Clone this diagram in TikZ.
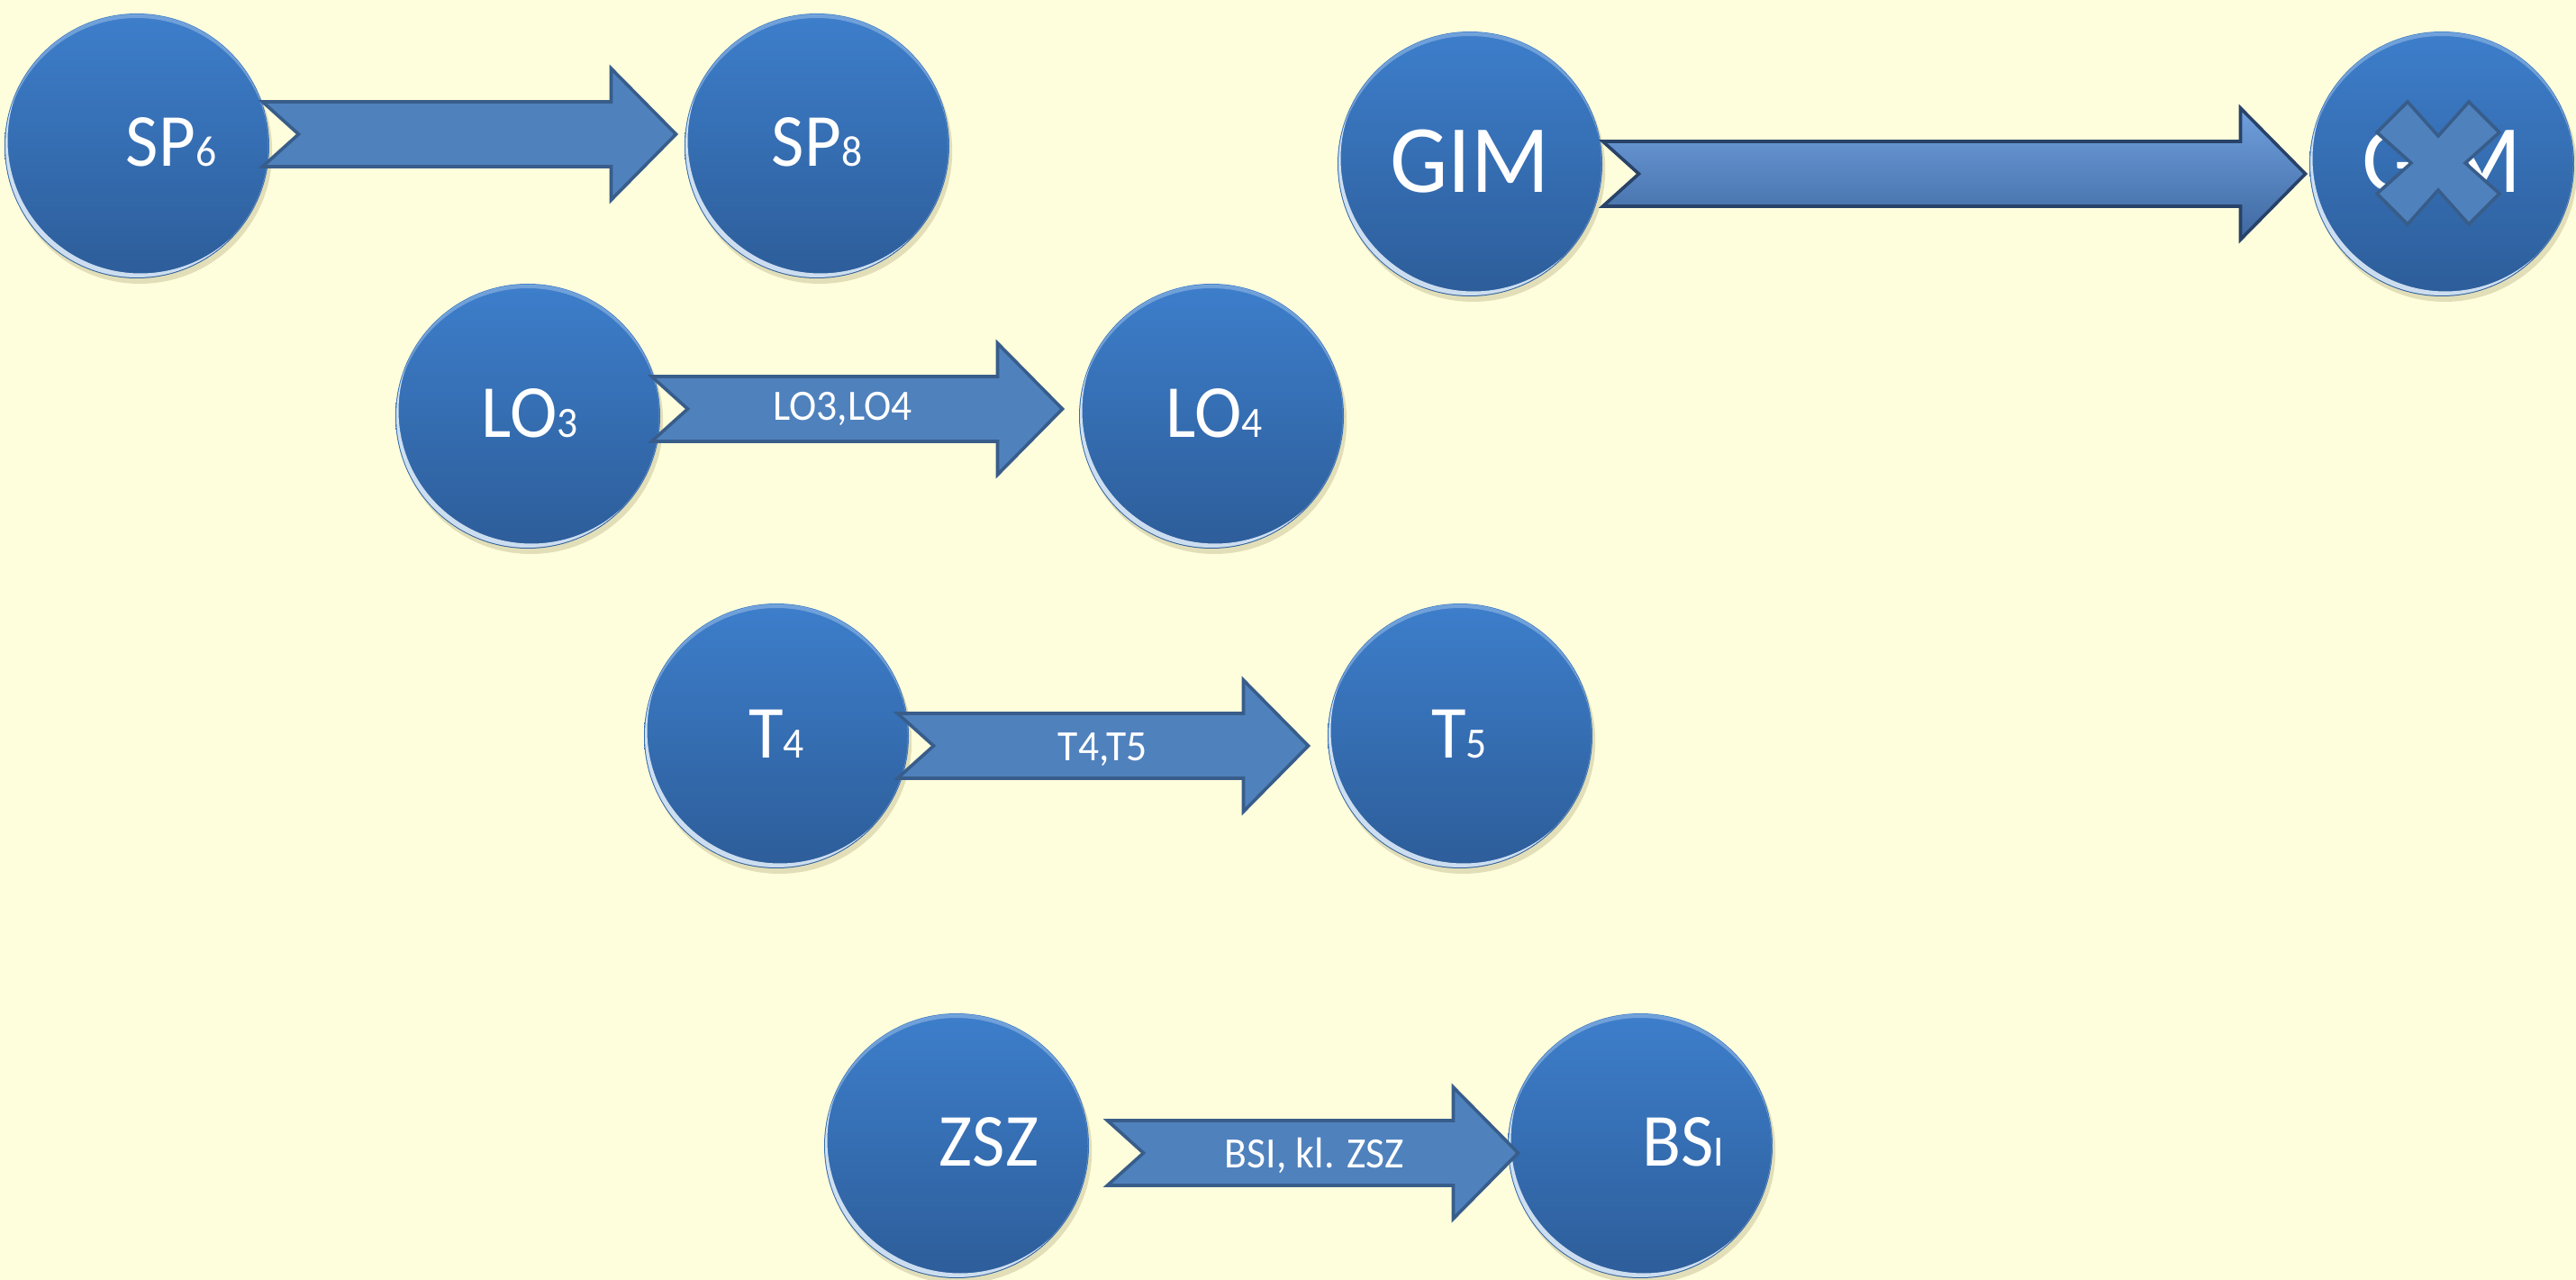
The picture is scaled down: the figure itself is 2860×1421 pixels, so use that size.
\documentclass[tikz,border=0pt]{standalone}
\usepackage{fontspec}
\setmainfont{Carlito}[FakeStretch=0.95]
\usetikzlibrary{calc}

\definecolor{paper}{RGB}{255,254,220}
\definecolor{ballTop}{RGB}{61,126,203}
\definecolor{ballBot}{RGB}{45,93,153}
\definecolor{arrowFill}{RGB}{79,129,189}
\definecolor{arrowLine}{RGB}{56,93,138}
\definecolor{rimLight}{RGB}{232,244,255}

% small digit after a code
\newcommand{\idx}[1]{{\fontsize{12}{13}\selectfont #1}}
% notched block arrow: #2 tail, #3 tip
\newcommand{\notcharrow}[3][]{%
  \draw[blockarrow,#1] ($(#2)+(0,-36)$) -- ($(#3)+(-72,-36)$) -- ($(#3)+(-72,-73)$) -- (#3)
    -- ($(#3)+(-72,73)$) -- ($(#3)+(-72,36)$) -- ($(#2)+(0,36)$) -- ($(#2)+(40,0)$) -- cycle;}

\tikzset{every picture/.style={line width=0.75pt},
  ball/.style={circle, minimum size=73.5pt, inner sep=0pt, draw=none,
    top color=ballTop, bottom color=ballBot,
    preaction={fill={rgb,255:red,120;green,110;blue,60}, opacity=0.22,
      transform canvas={xshift=0.8pt,yshift=-1.5pt}}},
  balltext/.style={text=white, inner sep=0pt, font=\fontsize{20.8}{24}\selectfont},
  gimtext/.style={balltext, font=\fontsize{26.8}{30}\selectfont},
  blockarrow/.style={fill=arrowFill, draw=arrowLine, line width=0.9pt, line join=miter},
  gimarrow/.style={top color={rgb,255:red,112;green,160;blue,222},
    middle color={rgb,255:red,88;green,139;blue,202},
    bottom color={rgb,255:red,62;green,104;blue,160}, draw={rgb,255:red,40;green,66;blue,104}},
  arrowtext/.style={text=white, inner sep=0pt, font=\fontsize{12}{13}\selectfont}}

\begin{document}
\begin{tikzpicture}[x=0.25pt,y=0.25pt,yscale=-1,xscale=1]
\fill[paper] (0,0) rectangle (2860,1421);
\useasboundingbox (0,0) rectangle (2860,1421);

%Circles
\node[ball] (sp6) at (152,162) {};
\node[ball] (sp8) at (907,162) {};
\node[ball] (gim) at (1632,182) {};
\node[ball] (gimx) at (2711,182) {};
\node[ball] (lo3) at (586,462) {};
\node[ball] (lo4) at (1345,462) {};
\node[ball] (t4) at (862,817) {};
\node[ball] (t5) at (1621,817) {};
\node[ball] (zsz) at (1062,1272) {};
\node[ball] (bsi) at (1821,1272) {};

%Glossy rims
\foreach \n in {sp6,sp8,gim,gimx,lo3,lo4,t4,t5,zsz,bsi} {
  \begin{scope}
    \clip (\n.center) circle[radius=146];
    \fill[rimLight, opacity=0.85, even odd rule] (\n.center) circle[radius=146]
      ($(\n.center)+(4,-6)$) circle[radius=147.5];
    \fill[rimLight, opacity=0.3, even odd rule] (\n.center) circle[radius=146]
      ($(\n.center)+(0,5)$) circle[radius=147];
  \end{scope}
}

% Text Node
\node[balltext] (sp6-t) at ($(sp6)+(38,-4)$) {SP\idx{6}};
\node[balltext] (sp8-t) at ($(sp8)+(0,-4)$) {SP\idx{8}};
\node[gimtext] (gim-t) at ($(gim)+(0,-3)$) {GIM};
\node[gimtext] (gimx-t) at ($(gimx)+(0,-3)$) {GIM};
\node[balltext] (lo3-t) at ($(lo3)+(2,-3)$) {LO\idx{3}};
\node[balltext] (lo4-t) at ($(lo4)+(3,-3)$) {LO\idx{4}};
\node[balltext] (t4-t) at ($(t4)+(0,-2)$) {T\idx{4}};
\node[balltext] (t5-t) at ($(t5)+(-1,-2)$) {T\idx{5}};
\node[balltext] (zsz-t) at ($(zsz)+(36,-4)$) {ZSZ};
\node[balltext] (bsi-t) at ($(bsi)+(48,-4)$) {BS\idx{I}};

%Arrow ends
\coordinate (sp-tail) at ($(sp6.east)+(-9,-13)$);
\coordinate (sp-tip) at ($(sp8.west)+(-8,-13)$);
\coordinate (gim-tail) at ($(gim.east)+(-1,11)$);
\coordinate (gim-tip) at ($(gimx.west)+(-3,11)$);
\coordinate (lo-tail) at ($(lo3.east)+(-11,-8)$);
\coordinate (lo-tip) at ($(lo4.west)+(-17,-8)$);
\coordinate (t-tail) at ($(t4.east)+(-14,11)$);
\coordinate (t-tip) at ($(t5.west)+(-20,11)$);
\coordinate (z-tail) at ($(zsz.east)+(19,8)$);
\coordinate (z-tip) at ($(bsi.west)+(13,8)$);

%Block arrows
\notcharrow{sp-tail}{sp-tip}
\notcharrow[gimarrow]{gim-tail}{gim-tip}
\notcharrow{lo-tail}{lo-tip}
\notcharrow{t-tail}{t-tip}
\notcharrow{z-tail}{z-tip}

% Arrow labels
\node[arrowtext] (lo-lbl) at ($(lo-tail)+(212,0)$) {LO3,LO4};
\node[arrowtext] (t-lbl) at ($(t-tail)+(228,4)$) {T4,T5};
\node[arrowtext] (z-lbl) at ($(z-tail)+(230,3)$) {BSI, kl. ZSZ};

%Cross over GIM
\coordinate (xc) at ($(gimx)+(-4,-1)$);
\draw[blockarrow] ($(xc)+(0,-30)$) -- ($(xc)+(34,-68)$) -- ($(xc)+(68,-34)$) -- ($(xc)+(30,0)$)
  -- ($(xc)+(68,34)$) -- ($(xc)+(34,68)$) -- ($(xc)+(0,30)$) -- ($(xc)+(-34,68)$)
  -- ($(xc)+(-68,34)$) -- ($(xc)+(-30,0)$) -- ($(xc)+(-68,-34)$) -- ($(xc)+(-34,-68)$) -- cycle;

\end{tikzpicture}
\end{document}
